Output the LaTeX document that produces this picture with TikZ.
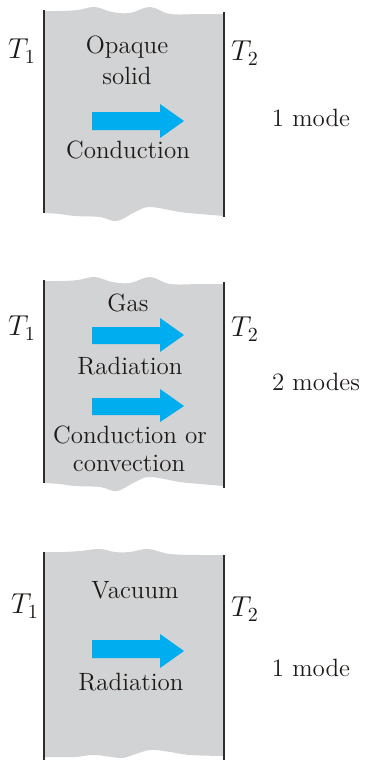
\documentclass[tikz,border=0pt]{standalone}
\definecolor{slab}{HTML}{D2D3D5}
\definecolor{flow}{HTML}{00AEEF}
\definecolor{ink}{HTML}{1E1A17}
\definecolor{wall}{HTML}{2E2E2E}
\newcommand{\Tsub}[1]{$T_{#1}$}
\begin{document}
\begin{tikzpicture}[x=0.5pt,y=-0.5pt,
  lbl/.style={text=ink,font=\fontsize{12.5}{15}\selectfont,inner sep=0pt,align=center},
  tlbl/.style={text=ink,font=\fontsize{14}{16}\selectfont,inner sep=0pt},
  wallline/.style={draw=wall,line width=1.1pt},
  heat/.style={fill=flow,draw=none}]
\useasboundingbox (0,0) rectangle (364,760);
% ---------- Panel 1 ----------
\fill[slab] plot[smooth,tension=0.6] coordinates {(44,11) (62,11) (78,10) (95,7) (112,12) (130,13) (150,7) (170,14) (200,14) (224,14)}
  -- plot[smooth,tension=0.6] coordinates {(224,216) (200,214) (180,212) (150,207) (135,212) (117,221) (100,217) (75,216) (60,214) (44,213)} -- cycle;
\draw[wallline] (44,10) -- (44,213);
\draw[wallline] (224,12) -- (224,217);
\fill[heat] (92,112) -- (160,112) -- (160,104) -- (184,121) -- (160,138) -- (160,130) -- (92,130) -- cycle;
\node[tlbl] (p1t1) at (22,51) {\Tsub{1}};
\node[tlbl] (p1t2) at (245,53) {\Tsub{2}};
\node[lbl] (p1a) at (127,47) {Opaque};
\node[lbl] (p1b) at (127,76) {solid};
\node[lbl] (p1c) at (128,150) {Conduction};
\node[lbl] (p1m) at (311,118) {1 mode};
% ---------- Panel 2 ----------
\begin{scope}[yshift=-135pt]
\fill[slab] plot[smooth,tension=0.6] coordinates {(44,11) (62,11) (78,10) (95,7) (112,12) (130,13) (150,7) (170,14) (200,14) (224,14)}
  -- plot[smooth,tension=0.6] coordinates {(224,216) (200,214) (180,212) (150,207) (135,212) (117,221) (100,217) (75,216) (60,214) (44,213)} -- cycle;
\draw[wallline] (44,10) -- (44,213);
\draw[wallline] (224,12) -- (224,218);
\fill[heat] (92,57) -- (160,57) -- (160,48) -- (184,65) -- (160,82) -- (160,74) -- (92,74) -- cycle;
\fill[heat] (92,128) -- (160,128) -- (160,119) -- (184,136) -- (160,152) -- (160,145) -- (92,145) -- cycle;
\node[tlbl] (p2t1) at (22,58) {\Tsub{1}};
\node[tlbl] (p2t2) at (245,59) {\Tsub{2}};
\node[lbl] (p2a) at (128,33) {Gas};
\node[lbl] (p2b) at (130,96) {Radiation};
\node[lbl] (p2c) at (130,165) {Conduction or};
\node[lbl] (p2d) at (129,193) {convection};
\node[lbl] (p2m) at (316,112) {2 modes};
\end{scope}
% ---------- Panel 3 ----------
\begin{scope}[yshift=-270pt]
\fill[slab] plot[smooth,tension=0.6] coordinates {(44,12) (62,12) (80,11) (100,9) (115,12) (130,12) (148,9) (170,14) (200,15) (224,15)}
  -- plot[smooth,tension=0.6] coordinates {(224,216) (190,215) (170,212) (150,210) (130,216) (120,218) (95,215) (75,217) (60,217) (44,217)} -- cycle;
\draw[wallline] (44,12) -- (44,220);
\draw[wallline] (224,15) -- (224,220);
\fill[heat] (92,100) -- (160,100) -- (160,94) -- (184,111) -- (160,128) -- (160,118) -- (92,118) -- cycle;
\node[tlbl] (p3t1) at (25,66) {\Tsub{1}};
\node[tlbl] (p3t2) at (245,69) {\Tsub{2}};
\node[lbl] (p3a) at (135,50) {Vacuum};
\node[lbl] (p3b) at (131,142) {Radiation};
\node[lbl] (p3m) at (311,128) {1 mode};
\end{scope}
\end{tikzpicture}
\end{document}
